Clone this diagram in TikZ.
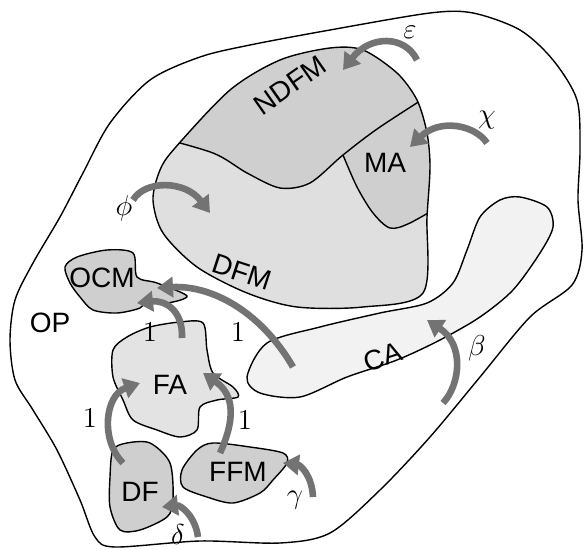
\documentclass[tikz,border=0pt]{standalone}
\usepackage{fontspec}
\newfontfamily\zonefont{Liberation Sans}
\usetikzlibrary{arrows.meta}

\begin{document}
\begin{tikzpicture}[x=0.5pt,y=-0.5pt,
  zone/.style={draw,line width=0.7pt},
  flow/.style={draw=black!55,line width=3.3pt,-{Triangle[length=8pt,width=10pt]}},
  lbl/.style={font=\zonefont\fontsize{14}{16}\selectfont,inner sep=0pt},
  sym/.style={font=\Large,inner sep=0pt}]
  \useasboundingbox (0,0) rectangle (584,550);
  \draw[zone,fill=white] plot[smooth cycle] coordinates {(110,123) (150,80) (200,57) (250,45) (330,30) (430,13) (473,13) (520,30) (553,60) (577,100) (580,150) (578,200) (582,250) (572,285) (530,317) (480,377) (430,437) (380,490) (330,533) (280,543) (200,541) (115,547) (95,537) (80,500) (57,450) (33,410) (15,380) (10,340) (15,300) (33,263) (60,217) (83,173)};
  \draw[zone,fill=gray!10] plot[smooth cycle] coordinates {(247,377) (267,343) (320,327) (380,313) (427,303) (453,283) (467,250) (480,217) (500,200) (520,197) (547,207) (553,227) (540,253) (513,290) (480,317) (440,340) (397,360) (347,377) (300,397) (260,393)};
  \def\blob{plot[smooth cycle] coordinates {(175,148) (230,90) (280,60) (330,48) (363,50) (397,73) (417,100) (427,133) (430,167) (427,217) (423,293) (363,307) (297,307) (247,293) (197,267) (163,233) (153,200) (160,170)}}
  \fill[gray!25] \blob;
  \begin{scope}
    \clip \blob;
    \fill[gray!38] plot[smooth] coordinates {(150,135) (213,153) (247,173) (280,188) (310,183) (343,155) (380,127) (445,85)} -- (460,0) -- (150,0) -- cycle;
    \fill[gray!38] plot[smooth] coordinates {(343,155) (357,187) (373,213) (390,228) (410,223) (450,200)} -- (460,0) -- (343,0) -- cycle;
    \draw[zone] plot[smooth] coordinates {(150,135) (213,153) (247,173) (280,188) (310,183) (343,155) (380,127) (445,85)};
    \draw[zone] plot[smooth] coordinates {(343,155) (357,187) (373,213) (390,228) (410,223) (450,200)};
  \end{scope}
  \draw[zone] \blob;
  \draw[zone,fill=gray!38] plot[smooth cycle] coordinates {(65,267) (77,257) (107,250) (133,253) (137,277) (157,283) (187,296) (167,303) (147,300) (140,308) (117,313) (93,310) (80,297) (70,283)};
  \draw[zone,fill=gray!22] plot[smooth cycle] coordinates {(113,350) (127,337) (150,327) (180,322) (203,323) (207,350) (213,373) (233,387) (238,397) (217,400) (200,407) (197,430) (180,437) (157,430) (133,420) (123,400) (113,377)};
  \draw[zone,fill=gray!38] plot[smooth cycle] coordinates {(113,450) (127,443) (150,443) (170,463) (173,500) (167,517) (140,530) (120,530) (110,507) (110,477)};
  \draw[zone,fill=gray!38] plot[smooth cycle] coordinates {(197,450) (213,443) (250,447) (283,453) (287,463) (273,480) (260,493) (233,503) (207,497) (183,487) (182,470)};
  \node[lbl,rotate=35] (ndfm) at (290,85) {NDFM};
  \node[lbl,rotate=-18] (dfm) at (242,272) {DFM};
  \node[lbl] (ma) at (385,163) {MA};
  \node[lbl,rotate=18] (ca) at (383,357) {CA};
  \node[lbl] (op) at (50,323) {OP};
  \node[lbl] (ocm) at (102,278) {OCM};
  \node[lbl] (fa) at (170,385) {FA};
  \node[lbl] (df) at (140,492) {DF};
  \node[lbl] (ffm) at (238,472) {FFM};
  \node[sym] (eps) at (410,32) {$\varepsilon$};
  \node[sym] (chi) at (487,120) {$\chi$};
  \node[sym] (phi) at (124,208) {$\phi$};
  \node[sym] (beta) at (477,348) {$\beta$};
  \node[sym] (gam) at (295,500) {$\gamma$};
  \node[sym] (del) at (178,535) {$\delta$};
  \node[sym] (one-fo) at (150,332) {1};
  \node[sym] (one-co) at (238,332) {1};
  \node[sym] (one-df) at (90,418) {1};
  \node[sym] (one-ff) at (245,420) {1};
  \coordinate (eps-s) at (417,60);  \coordinate (eps-t) at (343,70);
  \coordinate (chi-s) at (487,143); \coordinate (chi-t) at (410,147);
  \coordinate (phi-s) at (133,200); \coordinate (phi-t) at (210,213);
  \coordinate (beta-s) at (443,403); \coordinate (beta-t) at (427,320);
  \coordinate (gam-s) at (313,497); \coordinate (gam-t) at (283,463);
  \coordinate (del-s) at (198,537); \coordinate (del-t) at (162,507);
  \coordinate (df-s) at (123,463); \coordinate (fa-in1) at (140,383);
  \coordinate (ffm-s) at (220,453); \coordinate (fa-in2) at (203,373);
  \coordinate (fa-s) at (182,338); \coordinate (ocm-in1) at (137,303);
  \coordinate (ca-s) at (293,367); \coordinate (ocm-in2) at (157,288);
  \draw[flow] (eps-s) .. controls (405,35) and (370,35) .. (eps-t);
  \draw[flow] (chi-s) .. controls (475,125) and (440,118) .. (chi-t);
  \draw[flow] (phi-s) .. controls (145,180) and (185,180) .. (phi-t);
  \draw[flow] (beta-s) .. controls (460,385) and (465,345) .. (beta-t);
  \draw[flow] (gam-s) .. controls (312,475) and (300,465) .. (gam-t);
  \draw[flow] (del-s) .. controls (195,515) and (180,505) .. (del-t);
  \draw[flow] (df-s) .. controls (100,440) and (105,395) .. (fa-in1);
  \draw[flow] (ffm-s) .. controls (235,420) and (235,395) .. (fa-in2);
  \draw[flow] (fa-s) .. controls (183,310) and (165,300) .. (ocm-in1);
  \draw[flow] (ca-s) .. controls (260,310) and (210,285) .. (ocm-in2);
\end{tikzpicture}
\end{document}
